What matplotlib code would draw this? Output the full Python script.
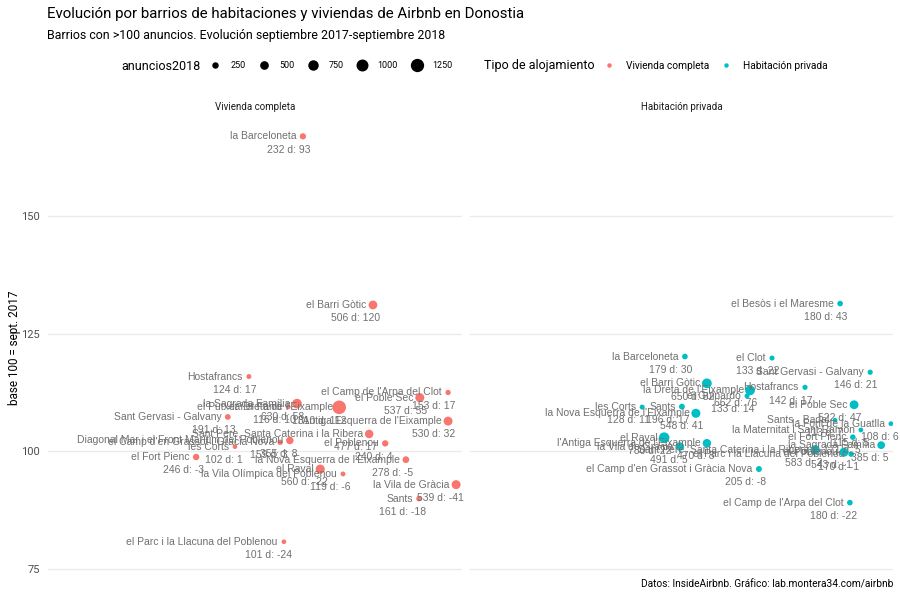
import matplotlib.pyplot as plt
from matplotlib.lines import Line2D

# Vivienda completa
barrios_viv = ["la Barceloneta", "el Barri Gòtic", "Hostafrancs", "el Camp de l'Arpa del Clot",
               "el Poble Sec", "la Sagrada Família", "el Putxet i el Farró", "la Dreta de l'Eixample",
               "l'Antiga Esquerra de l'Eixample", "Sant Pere, Santa Caterina i la Ribera", "el Poblenou",
               "Sant Gervasi - Galvany", "Diagonal Mar i el Front Marítim del Poblenou",
               "el Camp d'en Grassot i Gràcia Nova", "les Corts", "el Fort Pienc", "el Raval",
               "la Vila Olímpica del Poblenou", "la Nova Esquerra de l'Eixample", "la Vila de Gràcia",
               "Sants", "el Parc i la Llacuna del Poblenou"]
anuncios_viv = [232, 506, 124, 153, 537, 630, 116, 1310, 530, 477, 240, 191, 355, 159, 102, 246, 560,
                119, 278, 539, 161, 101]
dif_viv = [93, 120, 17, 17, 55, 58, 10, 112, 32, 17, 4, 13, 8, 3, 1, -3, -22, -6, -5, -41, -18, -24]
x_viv = [62.3, 78.9, 49.5, 96.7, 90.0, 60.9, 58.8, 70.9, 96.7, 78.0, 81.8, 44.5, 59.2, 56.9, 46.2,
         37.0, 66.4, 71.8, 86.7, 98.6, 89.8, 57.8]

# Habitación privada
barrios_hab = ["el Besòs i el Maresme", "la Barceloneta", "el Clot", "Sant Gervasi - Galvany",
               "el Barri Gòtic", "la Dreta de l'Eixample", "el Guinardó", "Hostafrancs", "les Corts",
               "Sants", "la Nova Esquerra de l'Eixample", "el Poble Sec", "Sants - Badal",
               "la Font de la Guatlla", "la Maternitat i Sant Ramon", "el Fort Pienc", "el Raval",
               "l'Antiga Esquerra de l'Eixample", "la Vila de Gràcia", "la Sagrada Família",
               "Sant Pere, Santa Caterina i la Ribera", "el Poblenou", "el Parc i la Llacuna del Poblenou",
               "el Camp d'en Grassot i Gràcia Nova", "el Camp de l'Arpa del Clot"]
anuncios_hab = [180, 179, 133, 146, 650, 662, 133, 142, 128, 196, 548, 522, 113, 108, 115, 171, 780,
                470, 491, 385, 583, 543, 170, 205, 180]
dif_hab = [43, 30, 22, 21, 82, 76, 14, 17, 11, 17, 41, 47, 7, 6, 5, 5, 22, 8, 5, 5, 2, -1, -1, -8, -22]
x_hab = [87.5, 50.8, 71.4, 94.6, 56.0, 66.2, 65.5, 79.2, 40.7, 50.1, 53.4, 90.8, 86.3, 99.5, 92.4,
         90.5, 45.9, 56.0, 49.6, 97.2, 81.6, 88.4, 90.1, 68.3, 89.8]

tipos = ["Vivienda completa", "Habitación privada"]
colores = ["#F8766D", "#00BFC4"]
size_breaks = [250, 500, 750, 1000, 1250]

plt.rcParams['font.family'] = ['Roboto', 'DejaVu Sans']
label_font = ['Liberation Sans', 'DejaVu Sans']


def tam(n):
    return n * 0.07 + 4


fig = plt.figure(figsize=(9, 6), dpi=100)
ax1 = fig.add_axes([48 / 900, 1 - 578 / 600, 414 / 900, 460 / 600])
ax2 = fig.add_axes([470 / 900, 1 - 578 / 600, 423 / 900, 460 / 600], sharey=ax1)

datos = [(barrios_viv, anuncios_viv, dif_viv, x_viv), (barrios_hab, anuncios_hab, dif_hab, x_hab)]
for ax, (nom, n, d, x), tipo, col in zip([ax1, ax2], datos, tipos, colores):
    base100 = [100 * a / (a - b) for a, b in zip(n, d)]
    ax.scatter(x, base100, s=[tam(a) for a in n], color=col, linewidths=0, zorder=2)
    for xi, yi, name, a, b in zip(x, base100, nom, n, d):
        ax.annotate(name, (xi, yi), xytext=(-4.5, 0), textcoords='offset points',
                    ha='right', va='center', fontsize=7.5, color='#707070',
                    family=label_font, zorder=3)
        ax.annotate(f"{a} d: {b}", (xi, yi), xytext=(5.5, -9.5), textcoords='offset points',
                    ha='right', va='center', fontsize=7.5, color='#707070',
                    family=label_font, zorder=3)
    ax.set_ylim(73.1, 170.8)
    ax.set_yticks([75, 100, 125, 150])
    ax.set_xticks([])
    ax.grid(axis='y', color='#ebebeb', linewidth=1)
    ax.set_axisbelow(True)
    for s in ax.spines.values():
        s.set_visible(False)
    ax.tick_params(axis='y', length=0, labelsize=8, labelcolor='#4d4d4d', pad=6)
    ax.set_title(tipo, fontsize=7, color='#1a1a1a', pad=6)

ax1.set_xlim(1.9, 100)
ax2.set_xlim(0, 100)
ax2.tick_params(axis='y', labelleft=False)
ax1.set_ylabel("base 100 = sept. 2017", fontsize=8.5, color='black', labelpad=0)

fig.text(47 / 900, 1 - 14 / 600, "Evolución por barrios de habitaciones y viviendas de Airbnb en Donostia",
         fontsize=10.8, va='center', ha='left')
fig.text(47 / 900, 1 - 35 / 600, "Barrios con >100 anuncios. Evolución septiembre 2017-septiembre 2018",
         fontsize=8.9, va='center', ha='left')

# leyendas
fig.text(121 / 900, 1 - 66 / 600, "anuncios2018", fontsize=9, va='center', ha='left')
h_size = [Line2D([], [], marker='o', linestyle='none', color='black', markeredgewidth=0,
                 markersize=tam(v) ** 0.5) for v in size_breaks]
fig.legend(h_size, [str(v) for v in size_breaks], loc='center left',
           bbox_to_anchor=(209.6 / 900, 1 - 66 / 600), ncol=5, frameon=False, fontsize=6.5,
           handletextpad=1.07, columnspacing=1.49, handlelength=1.2, borderpad=0, borderaxespad=0)
fig.text(484 / 900, 1 - 66 / 600, "Tipo de alojamiento", fontsize=9, va='center', ha='left')
h_tipo = [Line2D([], [], marker='o', linestyle='none', color=c, markeredgewidth=0, markersize=3.2)
          for c in colores]
fig.legend(h_tipo, tipos, loc='center left', bbox_to_anchor=(603 / 900, 1 - 66 / 600), ncol=2,
           frameon=False, fontsize=7.3, handletextpad=1.09, columnspacing=1.0, handlelength=1.2,
           borderpad=0, borderaxespad=0)

fig.text(893 / 900, 1 - 585 / 600, "Datos: InsideAirbnb. Gráfico: lab.montera34.com/airbnb",
         fontsize=7.3, ha='right', va='center')

fig.savefig("out.png", dpi=100)
